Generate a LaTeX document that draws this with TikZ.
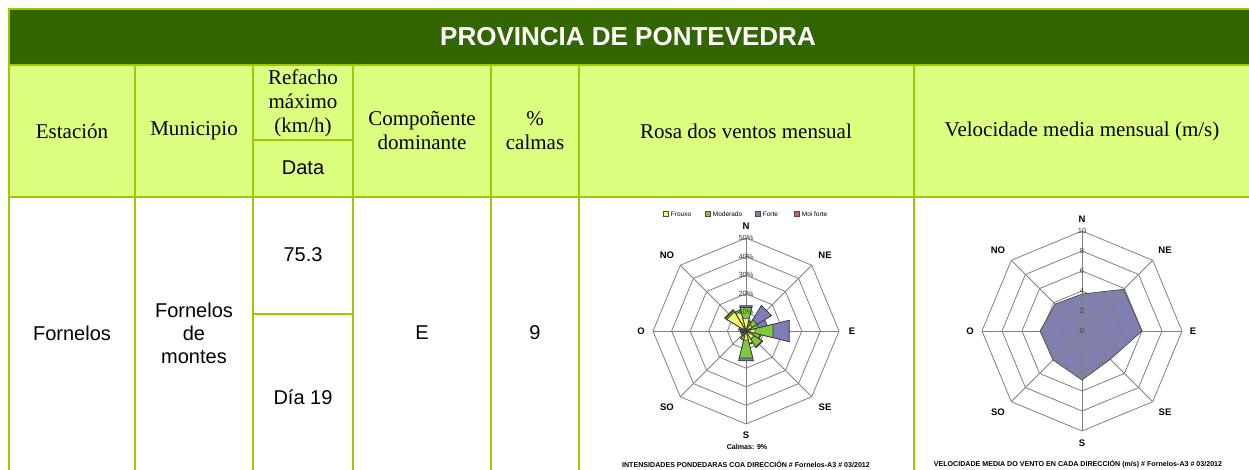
\documentclass[tikz,border=0pt]{standalone}
\usepackage{fontspec}
\setmainfont{Liberation Serif}
\setsansfont{Liberation Sans}
\usepackage{tikz}
\usetikzlibrary{positioning}

\definecolor{hdrgreen}{RGB}{51,102,0}
\definecolor{lightgreen}{RGB}{221,255,128}
\definecolor{tblline}{RGB}{153,204,0}
\definecolor{frouxoc}{RGB}{245,245,110}
\definecolor{moderc}{RGB}{130,200,60}
\definecolor{fortec}{RGB}{125,125,185}
\definecolor{moifortec}{RGB}{210,90,90}
\definecolor{velc}{RGB}{128,128,176}

\begin{document}
\begin{tikzpicture}[x=1pt, y=-1pt,
    tbl/.style={draw=tblline, line width=2.5pt},
    hdr/.style={font=\fontsize{21}{24}\selectfont, align=center, inner sep=0pt},
    cell/.style={font=\sffamily\fontsize{20}{23}\selectfont, align=center, inner sep=0pt},
    ring/.style={draw=black!50, line width=0.8pt},
    dirlbl/.style={font=\sffamily\bfseries\fontsize{9.5}{10}\selectfont, inner sep=0pt},
    tick/.style={font=\sffamily\fontsize{7.5}{8}\selectfont, text=black!75, inner sep=0.5pt},
    capt/.style={font=\sffamily\bfseries\fontsize{7.1}{8}\selectfont, inner sep=0pt},
    legbox/.style={draw=black!70, line width=0.4pt, minimum size=5pt, inner sep=0pt},
    legtxt/.style={font=\sffamily\fontsize{6.5}{7}\selectfont, inner sep=0pt},
    bar/.style={draw=black!80, line width=0.7pt}]
    \useasboundingbox (0,0) rectangle (1249,470);
    \fill[white] (0,0) rectangle (1249,470);
    % table
    \fill[hdrgreen] (9,9) rectangle (1253,65);
    \fill[lightgreen] (9,65) rectangle (1253,197);
    \draw[tbl] (9,480) -- (9,9) -- (1253,9) -- (1253,480);
    \draw[tbl] (9,65) -- (1253,65);
    \draw[tbl] (9,197) -- (1253,197);
    \foreach \cx in {135,253,353,491,579,914}
        \draw[tbl] (\cx,65) -- (\cx,480);
    \draw[tbl] (253,140) -- (353,140);
    \draw[tbl] (253,314) -- (353,314);
    \node[text=white, font=\sffamily\bfseries\fontsize{26}{28}\selectfont] (prov) at (628,37) {PROVINCIA DE PONTEVEDRA};
    \node[hdr] (est) at (72,131) {Estación};
    \node[hdr] (mun) at (194,131) {Municipio};
    \node[hdr] (ref) at (303,103) {Refacho\\máximo\\(km/h)};
    \node[cell] (data) at (303,168) {Data};
    \node[hdr] (comp) at (422,131) {Compoñente\\dominante};
    \node[hdr] (calm) at (535,131) {\%\\calmas};
    \node[hdr] (rosa) at (746,131) {Rosa dos ventos mensual};
    \node[hdr] (vel) at (1082,131) {Velocidade media mensual (m/s)};
    \node[cell] (estv) at (72,333) {Fornelos};
    \node[cell] (munv) at (194,333) {Fornelos\\de\\montes};
    \node[cell] (refv) at (303,255) {75.3};
    \node[cell] (datv) at (303,397) {Día 19};
    \node[cell] (compv) at (422,333) {E};
    \node[cell] (calmv) at (535,333) {9};
    % rosa dos ventos
    \begin{scope}[shift={(746,331)}, yscale=-1]
        \foreach \k in {1,...,5}
            \draw[ring] (90:{\k*18.6}) \foreach \a in {1,...,7}{ -- ({90+\a*45}:{\k*18.6}) } -- cycle;
        \foreach \a in {0,45,...,315}
            \draw[ring] (0,0) -- (\a:93);
        \foreach \d/\fy/\fm/\ff in {22.5/3/5/6, 67.5/3/7/12, 112.5/4/8/8.5, 157.5/7/7.5/7.5,
                202.5/3/5/5, 247.5/2/2/2, 292.5/3/4/4, 337.5/11/12/12,
                0/7/13/14, 45/4/7/16, 90/5/15/24, 135/5/10/10.5, 180/5/15/16.5,
                225/2/3/3, 270/2/3/3, 315/12/13/13.5}{
            \filldraw[bar, fill=fortec] (0,0) -- ({90-\d+14}:{1.86*\ff}) -- ({90-\d-14}:{1.86*\ff}) -- cycle;
            \filldraw[bar, fill=moderc] (0,0) -- ({90-\d+14}:{1.86*\fm}) -- ({90-\d-14}:{1.86*\fm}) -- cycle;
            \filldraw[bar, fill=frouxoc] (0,0) -- ({90-\d+14}:{1.86*\fy}) -- ({90-\d-14}:{1.86*\fy}) -- cycle;
        }
        \foreach \k in {0,...,5}
            \node[tick] (rt\k) at (0,{\k*18.6}) {\the\numexpr\k*10\relax\%};
        \node[dirlbl] (rN) at (0,105) {N};
        \node[dirlbl] (rNE) at (79,76) {NE};
        \node[dirlbl] (rE) at (106,0) {E};
        \node[dirlbl] (rSE) at (79,-76) {SE};
        \node[dirlbl] (rS) at (0,-104) {S};
        \node[dirlbl] (rSO) at (-79,-76) {SO};
        \node[dirlbl] (rO) at (-105,0) {O};
        \node[dirlbl] (rNO) at (-79,76) {NO};
        \node[legbox, fill=frouxoc] (lgA) at (-80,117) {};
        \node[legtxt, right=2pt of lgA] (lgAt) {Frouxo};
        \node[legbox, fill=moderc] (lgB) at (-38,117) {};
        \node[legtxt, right=2pt of lgB] (lgBt) {Moderado};
        \node[legbox, fill=fortec] (lgC) at (12,117) {};
        \node[legtxt, right=2pt of lgC] (lgCt) {Forte};
        \node[legbox, fill=moifortec] (lgD) at (51,117) {};
        \node[legtxt, right=2pt of lgD] (lgDt) {Moi forte};
        \node[capt] (calmas) at (1,-116) {Calmas: 9\%};
        \node[capt] (rtit) at (0,-133) {INTENSIDADES PONDEDARAS COA DIRECCIÓN \# Fornelos-A3 \# 03/2012};
    \end{scope}
    % velocidade media
    \begin{scope}[shift={(1082,331)}, yscale=-1]
        \fill[velc] (90:37) -- (45:59) -- (0:60) -- (-45:40) -- (-90:49) -- (-135:41) -- (180:42) -- (135:38) -- cycle;
        \foreach \k in {1,...,5}
            \draw[ring] (90:{\k*20}) \foreach \a in {1,...,7}{ -- ({90+\a*45}:{\k*20}) } -- cycle;
        \foreach \a in {0,45,...,315}
            \draw[ring] (0,0) -- (\a:100);
        \draw[black!75, line width=0.6pt] (90:37) -- (45:59) -- (0:60) -- (-45:40) -- (-90:49) -- (-135:41) -- (180:42) -- (135:38) -- cycle;
        \foreach \k in {0,...,5}
            \node[tick] (vt\k) at (0,{\k*20}) {\the\numexpr\k*2\relax};
        \node[dirlbl] (vN) at (0,112) {N};
        \node[dirlbl] (vNE) at (83,81) {NE};
        \node[dirlbl] (vE) at (111,0) {E};
        \node[dirlbl] (vSE) at (83,-81) {SE};
        \node[dirlbl] (vS) at (0,-112) {S};
        \node[dirlbl] (vSO) at (-84,-81) {SO};
        \node[dirlbl] (vO) at (-112,0) {O};
        \node[dirlbl] (vNO) at (-84,81) {NO};
        \node[capt] (vtit) at (-4,-133) {VELOCIDADE MEDIA DO VENTO EN CADA DIRECCIÓN (m/s) \# Fornelos-A3 \# 03/2012};
    \end{scope}
\end{tikzpicture}
\end{document}
